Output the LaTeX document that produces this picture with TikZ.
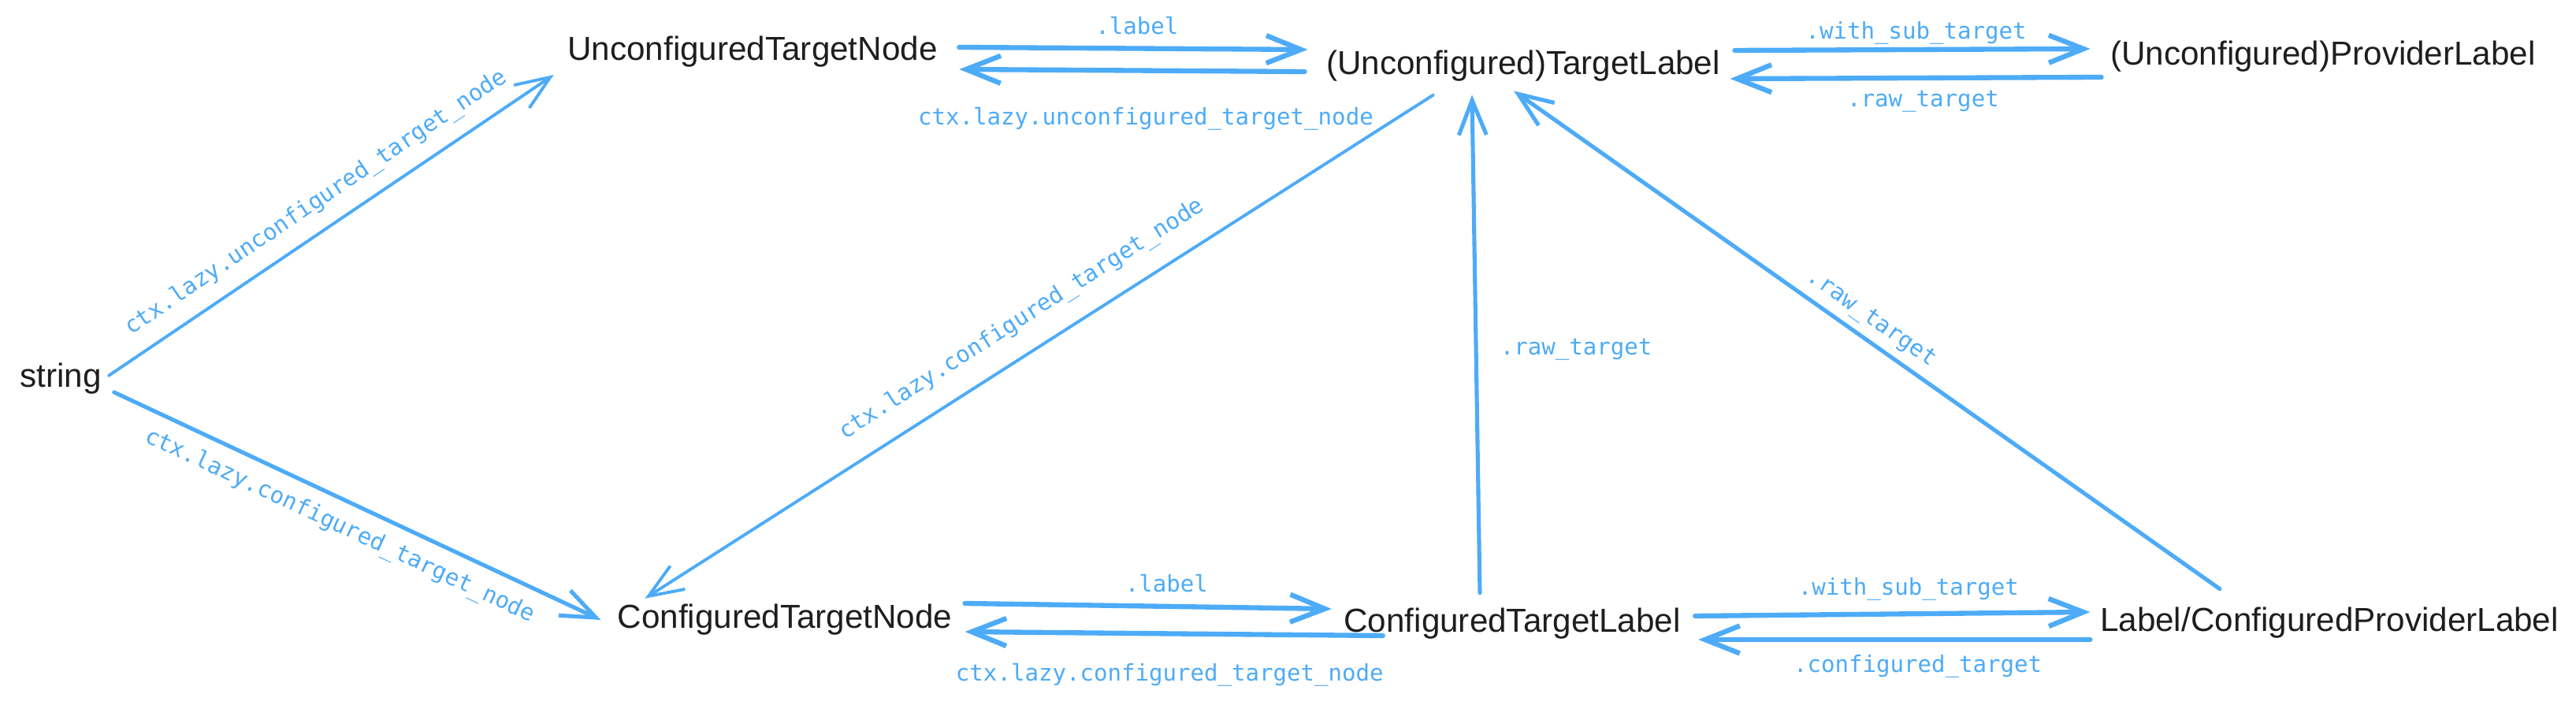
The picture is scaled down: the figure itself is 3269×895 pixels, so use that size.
\documentclass[tikz,border=0pt]{standalone}
\usepackage{fontspec}
\setmainfont{Liberation Sans}
\newfontfamily\codefont{DejaVu Sans Mono}
\usepackage{xcolor}
\usepackage{tikz}
\usetikzlibrary{arrows.meta}
\definecolor{linkblue}{HTML}{4DABF7}
\definecolor{inkblack}{HTML}{1E1E1E}

\begin{document}
\begin{tikzpicture}[
x=0.01cm, y=-0.01cm,
type/.style={inner sep=0pt, anchor=base, text=inkblack, font=\fontsize{12}{14}\selectfont},
call/.style={inner sep=0pt, text=linkblue, font=\codefont\fontsize{8.27}{10}\selectfont, text height=6.3pt, text depth=2pt},
arr/.style={-{Straight Barb[length=4.4mm, width=3.5mm]}, linkblue, line width=1.1pt, line cap=round, line join=round},
bold arr/.style={arr, line width=1.8pt},
mid arr/.style={arr, line width=1.45pt}
]
\useasboundingbox (0,0) rectangle (3269,895);

% Types
\node[type] (str) at (77,492) {string};
\node[type] (utn) at (955,77) {UnconfiguredTargetNode};
\node[type] (utl) at (1933,95) {(Unconfigured)TargetLabel};
\node[type] (upl) at (2948,83) {(Unconfigured)ProviderLabel};
\node[type] (ctn) at (996,798) {ConfiguredTargetNode};
\node[type] (ctl) at (1919,803) {ConfiguredTargetLabel};
\node[type] (lcpl) at (2956,802) {Label/ConfiguredProviderLabel};

% From string
\draw[arr] ([shift={(8.5,-15)}]str.base east) --
node[call, above=5pt, sloped, pos=0.5] {ctx.lazy.unconfigured\_target\_node} ([shift={(-17,18)}]utn.base west);
\draw[mid arr] ([shift={(15.5,6)}]str.base east) --
node[call, below=4.5pt, sloped, pos=0.486] {ctx.lazy.configured\_target\_node} ([shift={(-20.5,-11)}]ctn.base west);

% Unconfigured row
\draw[bold arr] ([shift={(27,-17)}]utn.base east) --
node[call, above=2.1pt, pos=0.51] {.label} ([shift={(-23,-32)}]utl.base west);
\draw[bold arr] ([shift={(-27,-4)}]utl.base west) --
node[call, below=12.3pt, pos=0.46] {ctx.lazy.unconfigured\_target\_node} ([shift={(27,11)}]utn.base east);
\draw[bold arr] ([shift={(18,-31)}]utl.base east) --
node[call, above=1pt, pos=0.51] {.with\_sub\_target} ([shift={(-25,-21)}]upl.base west);
\draw[bold arr] ([shift={(-11,15)}]upl.base west) --
node[call, below=3.2pt, pos=0.48] {.raw\_target} ([shift={(12,5)}]utl.base east);

% Between the rows
\draw[arr] ([shift={(-114,16)}]utl.south) --
node[call, above=6.9pt, sloped, pos=0.5] {ctx.lazy.configured\_target\_node} ([shift={(35.5,-7)}]ctn.north west);
\draw[mid arr] ([shift={(-41,-19)}]ctl.north) --
node[call, right=8pt, pos=0.49] {.raw\_target} ([shift={(-65,16)}]utl.south);
\draw[mid arr] ([shift={(-139,-23)}]lcpl.north) --
node[call, above=2.5pt, sloped, pos=0.51] {.raw\_target} ([shift={(-12,11)}]utl.south);

% Configured row
\draw[bold arr] ([shift={(15.5,-32)}]ctn.base east) --
node[call, above=2.4pt, pos=0.55] {.label} ([shift={(-15,-30)}]ctl.base west);
\draw[bold arr] ([shift={(50,4)}]ctl.base west) --
node[call, below=10pt, pos=0.51] {ctx.lazy.configured\_target\_node} ([shift={(15.5,4)}]ctn.base east);
\draw[bold arr] ([shift={(18,-21)}]ctl.base east) --
node[call, above=3.8pt, pos=0.54] {.with\_sub\_target} ([shift={(-12,-25)}]lcpl.base west);
\draw[bold arr] ([shift={(-12,10)}]lcpl.base west) --
node[call, below=4.7pt, pos=0.44] {.configured\_target} ([shift={(22,9)}]ctl.base east);

\end{tikzpicture}
\end{document}
